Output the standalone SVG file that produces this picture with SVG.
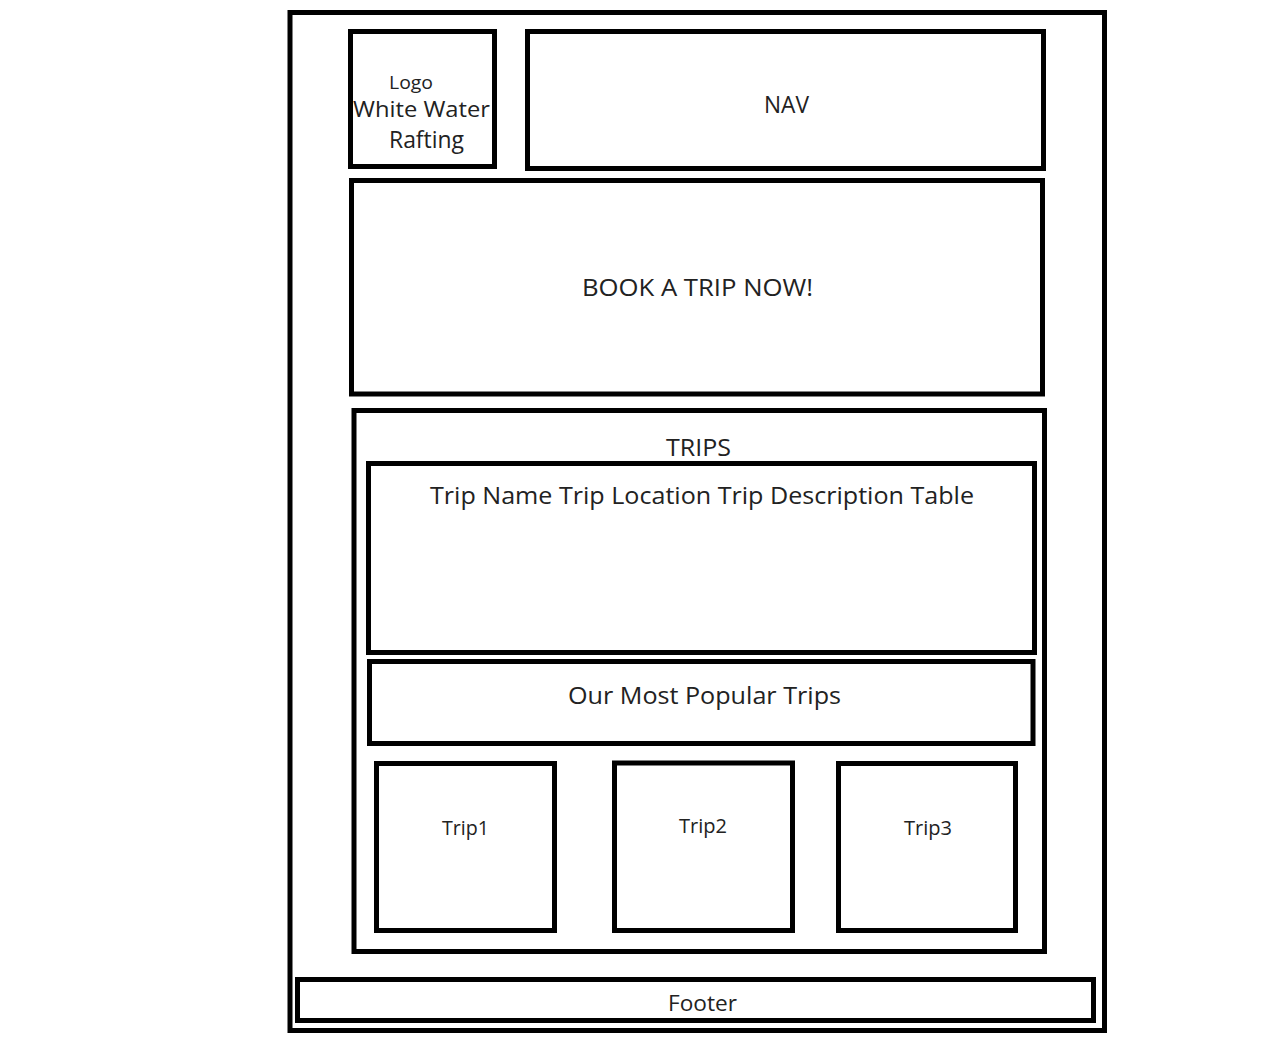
<svg xmlns="http://www.w3.org/2000/svg" width="1273" height="1053" viewBox="0 0 1273 1053">
<style>
.box{fill:none;stroke:#000;stroke-width:5}
.t{font-family:"Open Sans","Noto Sans","Liberation Sans",sans-serif;fill:#222;text-anchor:start}
</style>
<rect x="0" y="0" width="1273" height="1053" fill="#fff"/>
<g id="page"><rect class="box" x="290" y="12.5" width="814.5" height="1018"/></g>
<g id="logo">
<rect class="box" x="350.5" y="31.5" width="144" height="135"/>
<text class="t" x="389" y="89" font-size="19" textLength="44" lengthAdjust="spacingAndGlyphs">Logo</text>
<text class="t" x="353" y="117" font-size="22.5" textLength="137" lengthAdjust="spacingAndGlyphs">White Water</text>
<text class="t" x="389" y="148" font-size="23" textLength="75" lengthAdjust="spacingAndGlyphs">Rafting</text>
</g>
<g id="nav">
<rect class="box" x="527.5" y="31.5" width="516" height="137"/>
<text class="t" x="764" y="113" font-size="23" textLength="45" lengthAdjust="spacingAndGlyphs">NAV</text>
</g>
<g id="book">
<rect class="box" x="351.5" y="180.5" width="691" height="213.5"/>
<text class="t" x="582" y="296" font-size="24.5" textLength="231" lengthAdjust="spacingAndGlyphs">BOOK A TRIP NOW!</text>
</g>
<g id="trips">
<rect class="box" x="354" y="410.5" width="690.5" height="541"/>
<text class="t" x="666" y="456" font-size="24.5" textLength="65" lengthAdjust="spacingAndGlyphs">TRIPS</text>
</g>
<g id="table">
<rect class="box" x="368.5" y="463.5" width="666" height="189"/>
<text class="t" x="430" y="504" font-size="24.5" textLength="544" lengthAdjust="spacingAndGlyphs">Trip Name Trip Location Trip Description Table</text>
</g>
<g id="popular">
<rect class="box" x="369.5" y="661.5" width="663.5" height="82"/>
<text class="t" x="568" y="704" font-size="24.5" textLength="273" lengthAdjust="spacingAndGlyphs">Our Most Popular Trips</text>
</g>
<g id="trip1">
<rect class="box" x="376.5" y="763.5" width="178" height="167"/>
<text class="t" x="442" y="835" font-size="20" textLength="47" lengthAdjust="spacingAndGlyphs">Trip1</text>
</g>
<g id="trip2">
<rect class="box" x="614.5" y="763" width="178" height="167.5"/>
<text class="t" x="679" y="833" font-size="20" textLength="48" lengthAdjust="spacingAndGlyphs">Trip2</text>
</g>
<g id="trip3">
<rect class="box" x="838.5" y="763.5" width="177" height="167"/>
<text class="t" x="904" y="835" font-size="20" textLength="48" lengthAdjust="spacingAndGlyphs">Trip3</text>
</g>
<g id="footer">
<rect class="box" x="297.5" y="979.5" width="796" height="41"/>
<text class="t" x="668" y="1011" font-size="22" textLength="69" lengthAdjust="spacingAndGlyphs">Footer</text>
</g>
<g id="connectors"></g>
</svg>
